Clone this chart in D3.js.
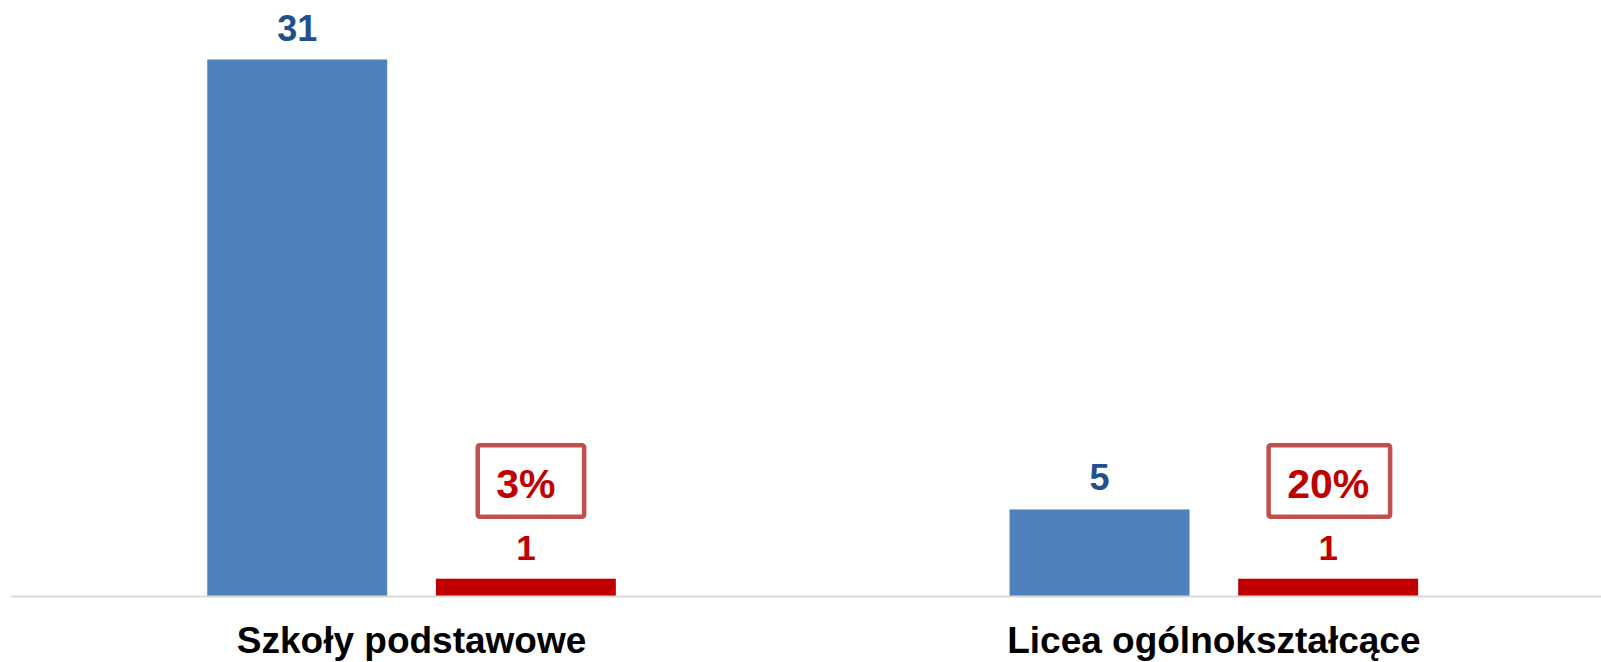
<!DOCTYPE html>
<html>
<head>
<meta charset="utf-8">
<script src="https://cdn.jsdelivr.net/npm/d3@7"></script>
<style>
  html, body { margin: 0; padding: 0; background: #ffffff; }
  svg { display: block; }
  text { font-family: "Liberation Sans", Arial, Helvetica, sans-serif; font-weight: bold; }
</style>
</head>
<body>
<script>
// ---- data ----
const categories = ["Szkoły podstawowe", "Licea ogólnokształcące"];
const seriesNames = ["ogółem", "wybrane"];
const totalValues = [31, 5];
const selectedValues = [1, 1];
const percentLabels = ["3%", "20%"];

// ---- layout ----
const W = 1601, H = 662;
const baseY = 596, topY = 59.5;

const svg = d3.select("body").append("svg")
  .attr("width", W).attr("height", H);

const x0 = d3.scaleBand().domain(categories).range([10.4, 1615]).padding(0);
const x1 = d3.scaleBand().domain(seriesNames).range([0, x0.bandwidth()])
  .paddingInner(0.213).paddingOuter(0.861);
const y = d3.scaleLinear().domain([0, 31]).range([baseY, topY]);

const rows = categories.map((c, i) => ({
  cat: c,
  vals: [
    { s: seriesNames[0], v: totalValues[i] },
    { s: seriesNames[1], v: selectedValues[i] }
  ],
  pct: percentLabels[i]
}));

const fill = d3.scaleOrdinal().domain(seriesNames).range(["#4f81bd", "#c00000"]);
const labelColor = d3.scaleOrdinal().domain(seriesNames).range(["#23508a", "#c00000"]);
const labelSize = d3.scaleOrdinal().domain(seriesNames).range([36, 35]);

const g = svg.append("g").selectAll("g.grp").data(rows).join("g")
  .attr("class", "grp")
  .attr("transform", d => `translate(${x0(d.cat)},0)`);

g.selectAll("rect.bar").data(d => d.vals).join("rect")
  .attr("class", "bar")
  .attr("x", d => x1(d.s))
  .attr("width", x1.bandwidth())
  .attr("y", d => y(d.v))
  .attr("height", d => baseY - y(d.v))
  .attr("fill", d => fill(d.s));

g.selectAll("text.val").data(d => d.vals).join("text")
  .attr("class", "val")
  .attr("x", d => x1(d.s) + x1.bandwidth() / 2)
  .attr("y", d => y(d.v) - 19)
  .attr("text-anchor", "middle")
  .attr("font-size", d => labelSize(d.s))
  .attr("fill", d => labelColor(d.s))
  .text(d => d.v);

// percentage boxes above the second series
g.each(function(d) {
  const grp = d3.select(this);
  const cx = x1(seriesNames[1]) + x1.bandwidth() / 2;
  const t = grp.append("text")
    .attr("x", cx)
    .attr("y", 498)
    .attr("text-anchor", "middle")
    .attr("font-size", 41)
    .attr("fill", "#c00000")
    .text(d.pct);
  const bb = t.node().getBBox();
  const left = bb.x - 18.5;
  const w = Math.max(bb.width + 39.4, 106.4);
  grp.insert("rect", "text")
    .attr("x", left)
    .attr("y", 445.3)
    .attr("width", w)
    .attr("height", 71.5)
    .attr("rx", 2)
    .attr("fill", "#ffffff")
    .attr("stroke", "#c0504d")
    .attr("stroke-width", 4.5);
});

// baseline
svg.append("line")
  .attr("x1", 11).attr("x2", W)
  .attr("y1", baseY + 0.5).attr("y2", baseY + 0.5)
  .attr("stroke", "#d9d9d9").attr("stroke-width", 2);

// category labels
svg.append("g").selectAll("text.cat").data(categories).join("text")
  .attr("class", "cat")
  .attr("x", d => x0(d) + (x1(seriesNames[0]) + x1(seriesNames[1]) + x1.bandwidth()) / 2)
  .attr("y", 653)
  .attr("text-anchor", "middle")
  .attr("font-size", 37)
  .attr("fill", "#000000")
  .text(d => d);
</script>
</body>
</html>
